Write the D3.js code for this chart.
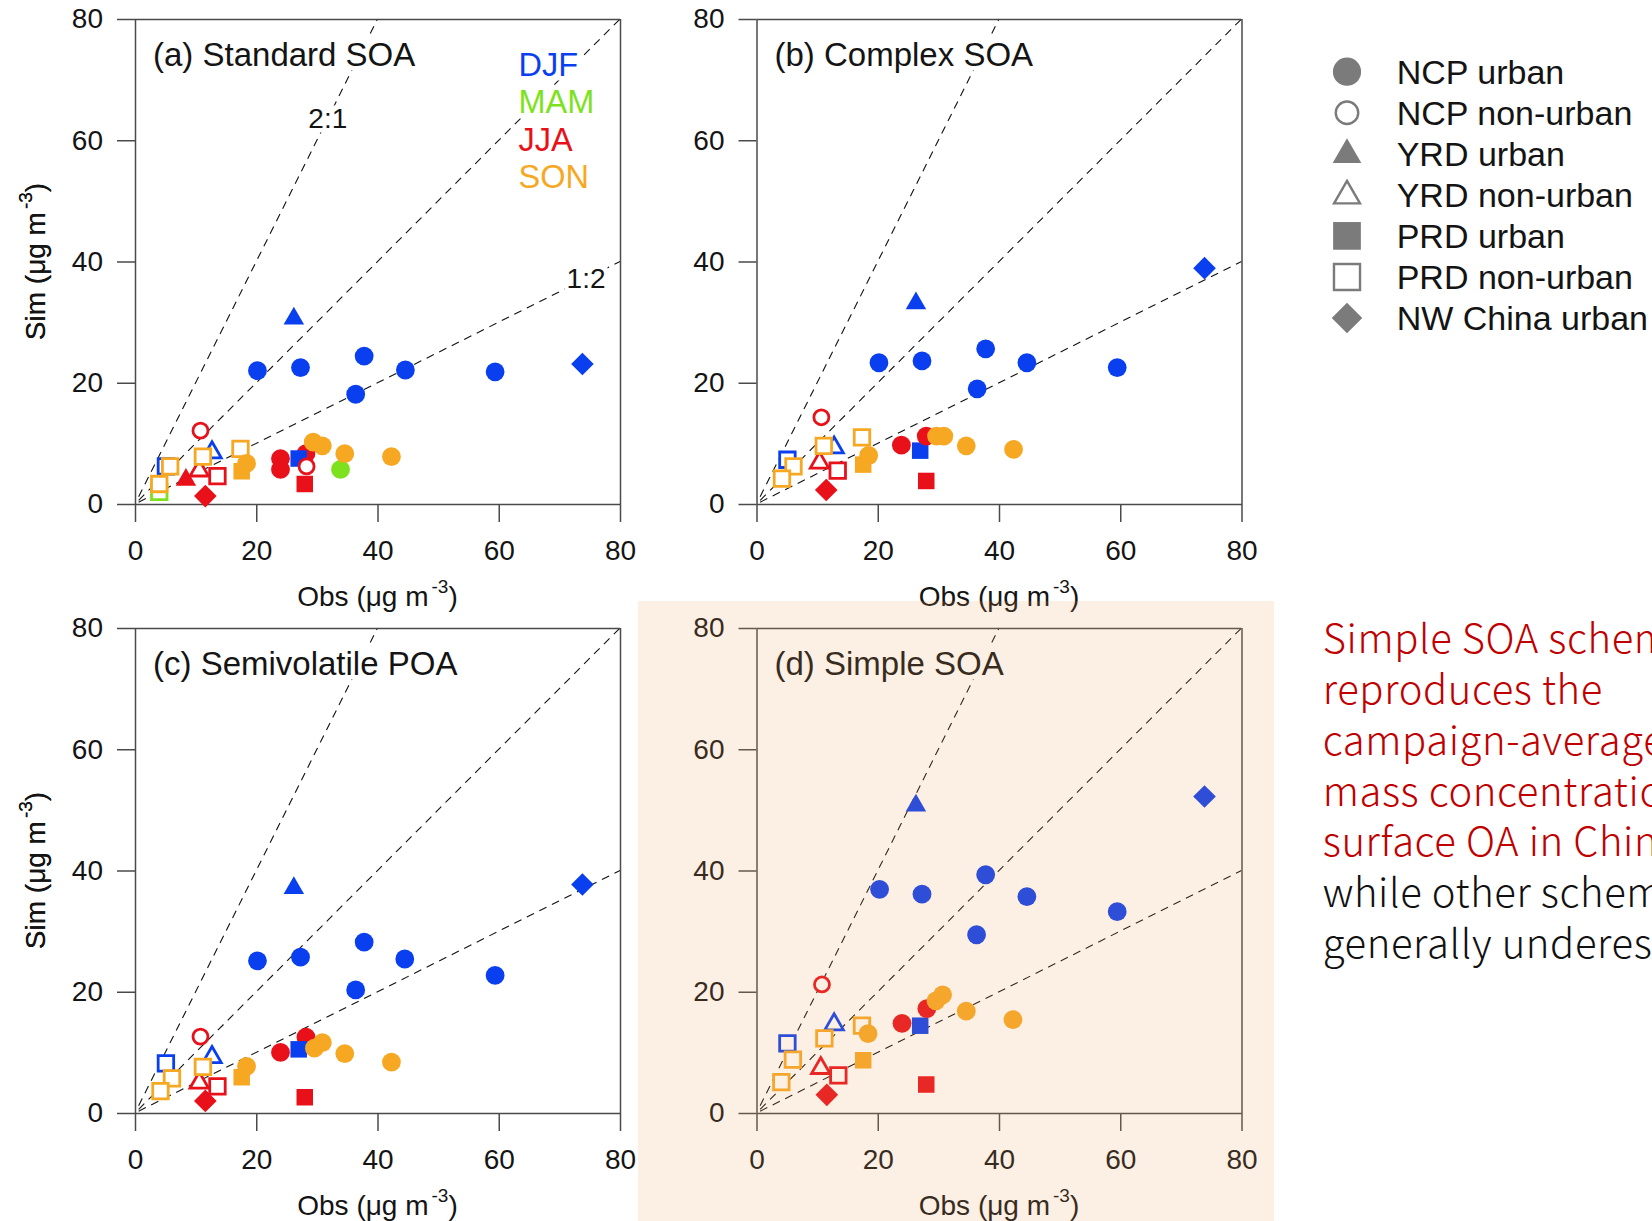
<!DOCTYPE html>
<html>
<head>
<meta charset="utf-8">
<script src="https://cdn.jsdelivr.net/npm/d3@7"></script>
<style>
html,body{margin:0;padding:0;background:#fff;overflow:hidden;}
svg{display:block;}
</style>
</head>
<body>
<script>
// ---------------- DATA ----------------
const seasons = ["DJF", "MAM", "JJA", "SON"];
const siteTypes = ["NCP urban", "NCP non-urban", "YRD urban", "YRD non-urban", "PRD urban", "PRD non-urban", "NW China urban"];
const panelTitles = ["(a) Standard SOA", "(b) Complex SOA", "(c) Semivolatile POA", "(d) Simple SOA"];
const axisTicks = [0, 20, 40, 60, 80];
const ratioSlopes = [2, 1, 0.5];
const ratioLabels = ["2:1", "", "1:2"];
const ratioLabelObs = [31.8, null, 74.4];
const annotationLines = ["Simple SOA scheme", "reproduces the", "campaign-average", "mass concentration of", "surface OA in China,", "while other schemes", "generally underestimate"];
const annotationEmphasis = [true, true, true, true, true, false, false];

// [obs, sim, season, site type]
const standardSOA = [
  [28.2, 8.3, "JJA", "NCP urban"],
  [20.2, 22.0, "DJF", "NCP urban"],
  [27.3, 22.5, "DJF", "NCP urban"],
  [37.8, 24.4, "DJF", "NCP urban"],
  [44.6, 22.1, "DJF", "NCP urban"],
  [36.4, 18.1, "DJF", "NCP urban"],
  [59.4, 21.8, "DJF", "NCP urban"],
  [73.8, 23.1, "DJF", "NW China urban"],
  [26.2, 30.6, "DJF", "YRD urban"],
  [27.0, 7.5, "DJF", "PRD urban"],
  [12.7, 8.5, "DJF", "YRD non-urban"],
  [5.1, 6.2, "DJF", "PRD non-urban"],
  [33.9, 5.7, "MAM", "NCP urban"],
  [4.0, 2.0, "MAM", "PRD non-urban"],
  [10.8, 12.1, "JJA", "NCP non-urban"],
  [28.3, 6.2, "JJA", "NCP non-urban"],
  [24.0, 7.5, "JJA", "NCP urban"],
  [24.0, 5.7, "JJA", "NCP urban"],
  [28.0, 3.3, "JJA", "PRD urban"],
  [8.4, 4.0, "JJA", "YRD urban"],
  [10.6, 5.5, "JJA", "YRD non-urban"],
  [13.6, 4.6, "JJA", "PRD non-urban"],
  [11.6, 1.3, "JJA", "NW China urban"],
  [17.4, 9.1, "SON", "PRD non-urban"],
  [11.2, 7.8, "SON", "PRD non-urban"],
  [5.8, 6.2, "SON", "PRD non-urban"],
  [4.0, 3.3, "SON", "PRD non-urban"],
  [18.4, 6.7, "SON", "NCP urban"],
  [17.6, 5.4, "SON", "PRD urban"],
  [29.4, 10.2, "SON", "NCP urban"],
  [30.9, 9.6, "SON", "NCP urban"],
  [34.6, 8.3, "SON", "NCP urban"],
  [42.3, 7.8, "SON", "NCP urban"]
];

const complexSOA = [
  [20.2, 23.3, "DJF", "NCP urban"],
  [27.3, 23.6, "DJF", "NCP urban"],
  [37.8, 25.6, "DJF", "NCP urban"],
  [44.6, 23.3, "DJF", "NCP urban"],
  [36.4, 19.0, "DJF", "NCP urban"],
  [59.5, 22.5, "DJF", "NCP urban"],
  [73.9, 38.9, "DJF", "NW China urban"],
  [26.3, 33.1, "DJF", "YRD urban"],
  [27.0, 8.8, "DJF", "PRD urban"],
  [12.8, 9.3, "DJF", "YRD non-urban"],
  [5.1, 7.3, "DJF", "PRD non-urban"],
  [10.7, 14.3, "JJA", "NCP non-urban"],
  [23.9, 9.7, "JJA", "NCP urban"],
  [28.0, 11.2, "JJA", "NCP urban"],
  [28.0, 3.8, "JJA", "PRD urban"],
  [10.4, 6.8, "JJA", "YRD non-urban"],
  [13.4, 5.5, "JJA", "PRD non-urban"],
  [11.5, 2.3, "JJA", "NW China urban"],
  [17.4, 11.0, "SON", "PRD non-urban"],
  [11.1, 9.6, "SON", "PRD non-urban"],
  [6.1, 6.2, "SON", "PRD non-urban"],
  [4.2, 4.2, "SON", "PRD non-urban"],
  [18.5, 8.0, "SON", "NCP urban"],
  [17.6, 6.5, "SON", "PRD urban"],
  [29.7, 11.2, "SON", "NCP urban"],
  [30.9, 11.2, "SON", "NCP urban"],
  [34.6, 9.6, "SON", "NCP urban"],
  [42.4, 9.0, "SON", "NCP urban"]
];

const semivolatilePOA = [
  [28.2, 12.5, "JJA", "NCP urban"],
  [20.2, 25.1, "DJF", "NCP urban"],
  [27.3, 25.7, "DJF", "NCP urban"],
  [37.8, 28.2, "DJF", "NCP urban"],
  [44.5, 25.4, "DJF", "NCP urban"],
  [36.4, 20.3, "DJF", "NCP urban"],
  [59.4, 22.7, "DJF", "NCP urban"],
  [73.8, 37.7, "DJF", "NW China urban"],
  [26.2, 37.1, "DJF", "YRD urban"],
  [27.0, 10.5, "DJF", "PRD urban"],
  [12.7, 9.2, "DJF", "YRD non-urban"],
  [5.1, 8.2, "DJF", "PRD non-urban"],
  [10.8, 12.6, "JJA", "NCP non-urban"],
  [24.0, 10.0, "JJA", "NCP urban"],
  [28.0, 2.6, "JJA", "PRD urban"],
  [10.6, 5.0, "JJA", "YRD non-urban"],
  [13.6, 4.4, "JJA", "PRD non-urban"],
  [11.6, 2.0, "JJA", "NW China urban"],
  [11.2, 7.6, "SON", "PRD non-urban"],
  [6.1, 5.7, "SON", "PRD non-urban"],
  [4.2, 3.6, "SON", "PRD non-urban"],
  [18.4, 7.7, "SON", "NCP urban"],
  [17.6, 5.9, "SON", "PRD urban"],
  [29.6, 10.7, "SON", "NCP urban"],
  [30.9, 11.6, "SON", "NCP urban"],
  [34.6, 9.8, "SON", "NCP urban"],
  [42.3, 8.4, "SON", "NCP urban"]
];

const simpleSOA = [
  [20.3, 36.9, "DJF", "NCP urban"],
  [27.3, 36.1, "DJF", "NCP urban"],
  [37.8, 39.3, "DJF", "NCP urban"],
  [44.6, 35.7, "DJF", "NCP urban"],
  [36.3, 29.4, "DJF", "NCP urban"],
  [59.5, 33.2, "DJF", "NCP urban"],
  [73.9, 52.2, "DJF", "NW China urban"],
  [26.3, 50.7, "DJF", "YRD urban"],
  [27.0, 14.4, "DJF", "PRD urban"],
  [12.8, 14.6, "DJF", "YRD non-urban"],
  [5.1, 11.5, "DJF", "PRD non-urban"],
  [10.8, 21.2, "JJA", "NCP non-urban"],
  [24.0, 14.8, "JJA", "NCP urban"],
  [28.1, 17.2, "JJA", "NCP urban"],
  [28.0, 4.7, "JJA", "PRD urban"],
  [10.6, 7.4, "JJA", "YRD non-urban"],
  [13.5, 6.2, "JJA", "PRD non-urban"],
  [11.6, 3.0, "JJA", "NW China urban"],
  [17.4, 14.4, "SON", "PRD non-urban"],
  [11.2, 12.3, "SON", "PRD non-urban"],
  [6.0, 8.8, "SON", "PRD non-urban"],
  [4.1, 5.1, "SON", "PRD non-urban"],
  [18.4, 13.1, "SON", "NCP urban"],
  [17.6, 8.7, "SON", "PRD urban"],
  [29.6, 18.5, "SON", "NCP urban"],
  [30.7, 19.5, "SON", "NCP urban"],
  [34.6, 16.8, "SON", "NCP urban"],
  [42.3, 15.4, "SON", "NCP urban"]
];

const panelData = [standardSOA, complexSOA, semivolatilePOA, simpleSOA];

// ---------------- LAYOUT / STYLE ----------------
const W = 1652, H = 1221;
const SIZE = 485;
const origins = [[135, 19], [756.5, 19], [135, 628], [756.5, 628]];
const FONT = "'Liberation Sans', Arial, sans-serif";
const AXIS_COLOR = "#4a4a4a";
const TEXT_COLOR = "#141414";

const seasonColor = d3.scaleOrdinal().domain(seasons).range(["#0a3ff0", "#7de21d", "#e8111a", "#f7a823"]);
const shapeOf = d3.scaleOrdinal().domain(siteTypes).range(["circle", "circle", "triangle", "triangle", "square", "square", "diamond"]);
const filledOf = d3.scaleOrdinal().domain(siteTypes).range([true, false, true, false, true, false, true]);

function markerPath(shape, filled, k) {
  const sym = {circle: d3.symbolCircle, triangle: d3.symbolTriangle, square: d3.symbolSquare, diamond: d3.symbolSquare}[shape];
  let area;
  if (shape === "circle") { const r = (filled ? 9.4 : 7.5) * k; area = Math.PI * r * r; }
  else if (shape === "triangle") { const a = (filled ? 20.5 : 18.5) * k; area = Math.sqrt(3) / 4 * a * a; }
  else if (shape === "square") { const a = (filled ? 16.5 : 15.5) * k; area = a * a; }
  else { const a = 16 * k; area = a * a; }
  return d3.symbol(sym, area)();
}

const svg = d3.select("body").append("svg")
  .attr("width", W).attr("height", H)
  .style("font-family", FONT);

svg.append("rect").attr("width", W).attr("height", H).attr("fill", "#fff");

function addBg(g, textSel, pad) {
  const b = textSel.node().getBBox();
  g.insert("rect", function () { return textSel.node(); })
    .attr("x", b.x - pad).attr("y", b.y + 2).attr("width", b.width + 2 * pad).attr("height", b.height - 4)
    .attr("fill", "#fff");
}

panelData.forEach((data, i) => {
  const [ox, oy] = origins[i];
  const g = svg.append("g").attr("transform", `translate(${ox},${oy})`);
  const x = d3.scaleLinear().domain([0, 80]).range([0, SIZE]);
  const y = d3.scaleLinear().domain([0, 80]).range([SIZE, 0]);

  // reference ratio lines
  ratioSlopes.forEach((k, j) => {
    const xe = Math.min(80, 80 / k);
    g.append("line")
      .attr("x1", x(0.6)).attr("y1", y(0.6 * k))
      .attr("x2", x(xe)).attr("y2", y(xe * k))
      .attr("stroke", "#111").attr("stroke-width", 1.1)
      .attr("stroke-dasharray", "8,6");
    if (i === 0 && ratioLabels[j]) {
      const lx = ratioLabelObs[j];
      const t = g.append("text")
        .attr("x", x(lx)).attr("y", y(lx * k) + 10)
        .attr("text-anchor", "middle")
        .attr("font-size", 28).attr("fill", TEXT_COLOR)
        .text(ratioLabels[j]);
      addBg(g, t, 2);
    }
  });

  // axes
  const yAxis = d3.axisLeft(y).tickValues(axisTicks).tickSize(18).tickSizeOuter(0).tickPadding(14);
  const xAxis = d3.axisBottom(x).tickValues(axisTicks).tickSize(18).tickSizeOuter(0).tickPadding(18);
  const ya = g.append("g").call(yAxis);
  const xa = g.append("g").attr("transform", `translate(0,${SIZE})`).call(xAxis);
  [ya, xa].forEach(a => {
    a.select(".domain").attr("stroke", AXIS_COLOR).attr("stroke-width", 1.5);
    a.selectAll(".tick line").attr("stroke", AXIS_COLOR).attr("stroke-width", 1.5);
    a.selectAll(".tick text").attr("font-size", 28).attr("fill", TEXT_COLOR).attr("font-family", FONT);
  });
  // frame
  g.append("line").attr("x1", x(0)).attr("x2", x(80)).attr("y1", y(80) + 0.5).attr("y2", y(80) + 0.5)
    .attr("stroke", AXIS_COLOR).attr("stroke-width", 1.5);
  g.append("line").attr("x1", x(80) + 0.5).attr("x2", x(80) + 0.5).attr("y1", y(80)).attr("y2", y(0))
    .attr("stroke", AXIS_COLOR).attr("stroke-width", 1.5);

  // axis titles
  const xl = g.append("text")
    .attr("x", SIZE / 2).attr("y", 587)
    .attr("text-anchor", "middle").attr("font-size", 28).attr("fill", TEXT_COLOR);
  xl.append("tspan").text("Obs (μg m");
  xl.append("tspan").attr("dx", 3).attr("dy", -13).attr("font-size", 19).text("-3");
  xl.append("tspan").attr("dy", 13).text(")");

  const yl = g.append("text")
    .attr("transform", `translate(${45 - ox},${SIZE / 2}) rotate(-90)`)
    .attr("text-anchor", "middle").attr("font-size", 28).attr("fill", TEXT_COLOR);
  yl.append("tspan").text("Sim (μg m");
  yl.append("tspan").attr("dx", 3).attr("dy", -13).attr("font-size", 19).text("-3");
  yl.append("tspan").attr("dy", 13).text(")");

  // title
  const title = g.append("text")
    .attr("x", 18).attr("y", 46.5)
    .attr("font-size", 33).attr("fill", TEXT_COLOR)
    .text(panelTitles[i]);
  addBg(g, title, 3);

  // season legend (panel a)
  if (i === 0) {
    seasons.forEach((s, j) => {
      const t = g.append("text")
        .attr("x", 383.5).attr("y", 56.5 + j * 37.6)
        .attr("font-size", 32.5).attr("fill", seasonColor(s))
        .text(s);
      addBg(g, t, 2);
    });
  }

  // points
  g.selectAll("path.pt").data(data).join("path")
    .attr("class", "pt")
    .attr("d", d => markerPath(shapeOf(d[3]), filledOf(d[3]), 1))
    .attr("transform", d => `translate(${x(d[0])},${y(d[1])})` + (shapeOf(d[3]) === "diamond" ? " rotate(45)" : ""))
    .attr("fill", d => filledOf(d[3]) ? seasonColor(d[2]) : "#fff")
    .attr("stroke", d => filledOf(d[3]) ? "none" : seasonColor(d[2]))
    .attr("stroke-width", 2.8);
});

// site-type legend
const lg = svg.append("g").attr("transform", "translate(1347,71.7)");
siteTypes.forEach((s, j) => {
  const row = lg.append("g").attr("transform", `translate(0,${j * 41.05})`);
  const filled = filledOf(s), shape = shapeOf(s);
  row.append("path")
    .attr("d", markerPath(shape, filled, shape === "circle" ? 1.5 : (shape === "triangle" ? 1.4 : (shape === "diamond" ? 1.35 : 1.68))))
    .attr("transform", shape === "diamond" ? "rotate(45)" : (shape === "triangle" ? "translate(0,1)" : ""))
    .attr("fill", filled ? "#7b7b7b" : "#fff")
    .attr("stroke", filled ? "none" : "#7b7b7b")
    .attr("stroke-width", 2.4);
  row.append("text")
    .attr("x", 49.7).attr("y", 12)
    .attr("font-size", 34).attr("fill", TEXT_COLOR)
    .text(s);
});

// annotation
const ann = svg.append("g").attr("transform", "translate(1322.7,653.3)");
annotationLines.forEach((line, j) => {
  ann.append("text")
    .attr("x", 0).attr("y", j * 50.8)
    .attr("font-family", "'Noto Sans CJK SC', 'Noto Sans', sans-serif")
    .attr("font-weight", 300)
    .attr("font-size", 40)
    .attr("letter-spacing", 0.6)
    .attr("fill", annotationEmphasis[j] ? "#c00000" : "#111")
    .text(line);
});

// highlight tint over panel (d)
svg.append("rect")
  .attr("x", 638).attr("y", 601).attr("width", 636).attr("height", 620)
  .attr("fill", "rgb(237,157,90)").attr("opacity", 0.164)
  .attr("pointer-events", "none");
</script>
</body>
</html>
